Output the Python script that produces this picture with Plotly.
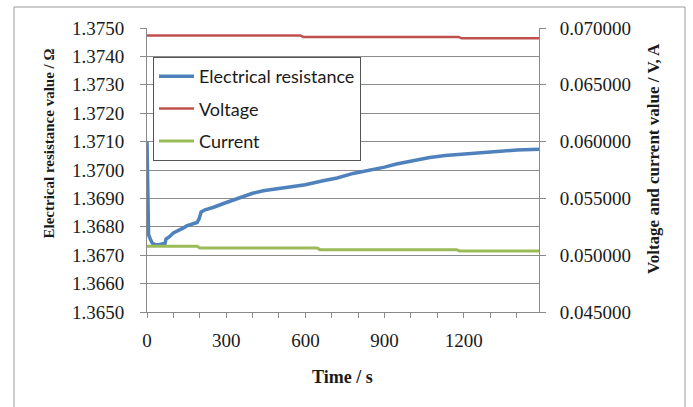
import plotly.graph_objects as go

# ---- data ----
res_t = [0, 2, 4, 6, 12, 20, 30, 45, 60, 68, 72, 85, 100, 120, 140, 150, 165, 180, 190,
         198, 205, 220, 250, 290, 320, 352, 400, 440, 480, 540, 600, 667, 720, 781,
         844, 900, 945, 1000, 1071, 1130, 1197, 1260, 1323, 1400, 1485]
res_v = [1.3710, 1.3700, 1.3685, 1.36772, 1.36758, 1.36742, 1.36738, 1.36737, 1.36740, 1.36741,
         1.36757, 1.36765, 1.36778, 1.36786, 1.36797, 1.36803, 1.36808, 1.36812, 1.36815,
         1.36830, 1.36852, 1.36860, 1.36868, 1.36882, 1.36892, 1.36903, 1.36918, 1.36927,
         1.36932, 1.36938, 1.36948, 1.36962, 1.36972, 1.36988, 1.36999, 1.37010, 1.37021,
         1.37032, 1.37044, 1.37051, 1.37056, 1.37061, 1.37065, 1.37070, 1.37073]

volt_t = [0, 580, 592, 1180, 1192, 1485]
volt_v = [0.06935, 0.06935, 0.06921, 0.06921, 0.06909, 0.06909]

curr_t = [0, 190, 200, 645, 655, 1172, 1184, 1485]
curr_v = [0.05078, 0.05078, 0.05064, 0.05064, 0.05049, 0.05049, 0.05037, 0.05037]

x_tickvals = list(range(0, 1500, 100))
x_ticktext = ["0", "", "", "300", "", "", "600", "", "", "900", "", "", "1200", "", ""]

left_ticks = [1.3650, 1.3660, 1.3670, 1.3680, 1.3690, 1.3700, 1.3710, 1.3720, 1.3730, 1.3740, 1.3750]
right_ticks = [0.045, 0.050, 0.055, 0.060, 0.065, 0.070]

names = ["Electrical resistance", "Voltage", "Current"]
colors = ["#4F81BD", "#C0504D", "#9BBB59"]

# ---- figure ----
W, H = 693, 407
L, R, T, B = 147, 154, 28, 95
pw, ph = W - L - R, H - T - B

def px_x(x):
    return (x - L) / pw

def px_y(y):
    return (H - B - y) / ph

fig = go.Figure()
fig.add_trace(go.Scatter(x=res_t, y=res_v, mode="lines", name=names[0],
                         line=dict(color=colors[0], width=3.5), legendgroup="a"))
fig.add_trace(go.Scatter(x=volt_t, y=volt_v, mode="lines", name=names[1], yaxis="y2",
                         line=dict(color=colors[1], width=2.5), legendgroup="b"))
fig.add_trace(go.Scatter(x=curr_t, y=curr_v, mode="lines", name=names[2], yaxis="y2",
                         line=dict(color=colors[2], width=3), legendgroup="c"))

tickfont = dict(family="Liberation Serif", size=19, color="#1a1a1a")
axcol = "#8a8a8a"

fig.update_layout(
    width=W, height=H,
    margin=dict(l=L, r=R, t=T, b=B, pad=0),
    paper_bgcolor="white", plot_bgcolor="white",
    showlegend=True,
    legend=dict(x=px_x(153), y=px_y(57), xanchor="left", yanchor="top",
                bgcolor="white", bordercolor="#555555", borderwidth=1,
                font=dict(family="Lato", size=18, color="#1a1a1a"),
                tracegroupgap=6, itemwidth=35),
    xaxis=dict(range=[0, 1485], tickmode="array", tickvals=x_tickvals, ticktext=x_ticktext,
               ticks="outside", ticklen=5, tickcolor=axcol, showline=True, linecolor=axcol,
               showgrid=False, zeroline=False, tickfont=tickfont, ticklabelstandoff=6),
    yaxis=dict(range=[1.3650, 1.3750], tickmode="array", tickvals=left_ticks,
               tickformat=".4f", ticks="outside", ticklen=6, tickcolor=axcol,
               showline=True, linecolor=axcol, showgrid=True, gridcolor="#8c8c8c",
               gridwidth=1, zeroline=False, tickfont=tickfont, ticklabelstandoff=12),
    yaxis2=dict(range=[0.045, 0.070], tickmode="array", tickvals=right_ticks,
                tickformat=".6f", overlaying="y", side="right", ticks="outside",
                ticklen=6, tickcolor=axcol, showline=True, linecolor=axcol,
                showgrid=False, zeroline=False, tickfont=tickfont, ticklabelstandoff=10),
)

titlefont = dict(family="Liberation Serif", color="#1a1a1a")
fig.add_annotation(text="<b>Electrical resistance value / Ω</b>", xref="paper", yref="paper",
                   x=px_x(48), y=px_y(143.5), textangle=-90, showarrow=False,
                   font=dict(size=15, **titlefont), xanchor="center", yanchor="middle")
fig.add_annotation(text="<b>Voltage and current value / V, A</b>", xref="paper", yref="paper",
                   x=px_x(653), y=px_y(159), textangle=-90, showarrow=False,
                   font=dict(size=17, **titlefont), xanchor="center", yanchor="middle")
fig.add_annotation(text="<b>Time / s</b>", xref="paper", yref="paper",
                   x=px_x(342), y=px_y(377), showarrow=False,
                   font=dict(size=18, **titlefont), xanchor="center", yanchor="middle")

# outer chart border
fig.add_shape(type="rect", xref="paper", yref="paper",
              x0=px_x(14), x1=px_x(685), y0=px_y(7), y1=px_y(420),
              line=dict(color="#9a9a9a", width=1), layer="below")

fig.write_html("out.html")
